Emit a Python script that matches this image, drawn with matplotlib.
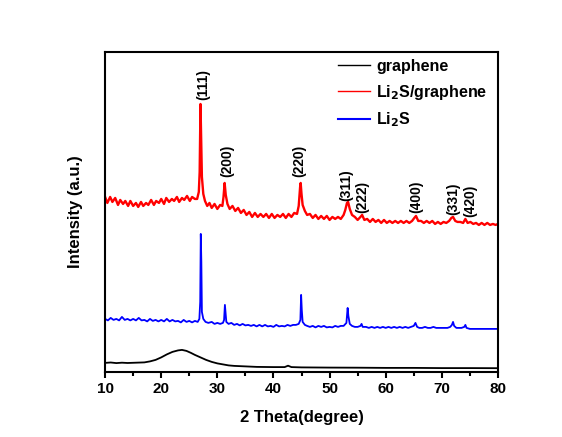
import numpy as np
import matplotlib
matplotlib.use('Agg')
import matplotlib.pyplot as plt
from matplotlib.ticker import MultipleLocator

plt.rcParams['font.family'] = ['Liberation Sans', 'DejaVu Sans']
plt.rcParams['font.weight'] = 'bold'
plt.rcParams['mathtext.default'] = 'bf'

# XRD traces (2 theta in degree, intensity in arbitrary offset units)
red_x = [10.0, 10.4, 10.9, 11.3, 11.8, 12.3, 12.7, 13.2, 13.6, 14.1, 14.5, 15.0, 15.5, 15.9,
         16.4, 16.8, 17.3, 17.7, 18.2, 18.7, 19.1, 19.6, 20.0, 20.5, 20.9, 21.4, 21.9,
         22.3, 22.8, 23.2, 23.7, 24.1, 24.6, 25.1, 25.5, 26.0, 26.4, 26.7, 26.85, 27.0,
         27.1, 27.25, 27.5, 27.8, 28.2, 28.6, 29.0, 29.5, 30.0, 30.5, 30.9, 31.1, 31.3,
         31.5, 31.8, 32.2, 32.7, 33.2, 33.7, 34.2, 34.7, 35.2, 35.7, 36.2, 36.7, 37.2,
         37.7, 38.2, 38.7, 39.2, 39.7, 40.2, 40.7, 41.2, 41.7, 42.2, 42.7, 43.2, 43.7,
         44.2, 44.5, 44.75, 44.85, 45.0, 45.2, 45.6, 46.0, 46.5, 47.0, 47.5, 48.0, 48.5,
         49.0, 49.5, 50.0, 50.5, 51.0, 51.5, 52.0, 52.5, 52.8, 53.1, 53.3, 53.6, 54.0,
         54.5, 55.0, 55.5, 55.8, 56.2, 56.7, 57.2, 57.7, 58.2, 58.7, 59.2, 59.7, 60.2,
         60.7, 61.2, 61.7, 62.2, 62.7, 63.2, 63.7, 64.2, 64.7, 65.1, 65.4, 65.8, 66.3,
         66.8, 67.3, 67.8, 68.3, 68.8, 69.3, 69.8, 70.3, 70.8, 71.3, 71.7, 72.0, 72.4,
         72.8, 73.3, 73.8, 74.2, 74.6, 75.1, 75.6, 76.1, 76.6, 77.1, 77.6, 78.1, 78.6,
         79.1, 79.6, 80.0]
red_y = [175, 169, 175, 170, 174, 167, 172, 168, 171, 166, 171, 166, 169, 165,
         170, 166, 169, 167, 172, 167, 171, 169, 173, 168, 174, 170, 173,
         171, 175, 170, 174, 172, 176, 171, 175, 173, 173, 180, 200, 268,
         240, 195, 178, 171, 166, 169, 164, 168, 163, 167, 166, 175, 189,
         177, 168, 163, 166, 161, 164, 159, 162, 157, 160, 155, 159, 155,
         158, 155, 158, 154, 158, 154, 157, 155, 158, 154, 158, 155, 159,
         158, 166, 185, 189, 178, 167, 161, 157, 158, 154, 157, 153, 156,
         153, 156, 152, 155, 153, 155, 153, 157, 162, 169, 170, 163, 157,
         155, 152, 155, 157, 152, 153, 150, 153, 150, 152, 149, 152, 149,
         151, 149, 151, 149, 151, 149, 151, 149, 151, 154, 156, 151, 151,
         149, 151, 149, 151, 148, 150, 148, 150, 149, 151, 154, 155, 151,
         150, 150, 149, 153, 149, 150, 148, 149, 147, 149, 147, 149, 147,
         148, 147, 148]

blue_x = [10.0, 10.5, 11.0, 11.5, 12.0, 12.5, 13.0, 13.5, 14.0, 14.5, 15.0, 15.5, 16.0,
          16.5, 17.0, 17.5, 18.0, 18.5, 19.0, 19.5, 20.0, 20.5, 21.0, 21.5, 22.0, 22.5,
          23.0, 23.5, 24.0, 24.5, 25.0, 25.5, 26.0, 26.5, 26.8, 26.95, 27.05, 27.15,
          27.25, 27.5, 27.9, 28.4, 29.0, 29.5, 30.0, 30.5, 31.0, 31.2, 31.35, 31.45,
          31.6, 32.0, 32.5, 33.0, 33.5, 34.0, 34.5, 35.0, 35.5, 36.0, 36.5, 37.0, 37.5,
          38.0, 38.5, 39.0, 39.5, 40.0, 40.5, 41.0, 41.5, 42.0, 42.5, 43.0, 43.5, 44.0,
          44.5, 44.8, 44.93, 45.05, 45.2, 45.6, 46.0, 46.5, 47.0, 47.5, 48.0, 48.5,
          49.0, 49.5, 50.0, 50.5, 51.0, 51.5, 52.0, 52.5, 53.0, 53.22, 53.35, 53.6,
          54.0, 54.5, 55.0, 55.5, 55.7, 55.9, 56.5, 57.0, 57.5, 58.0, 58.5, 59.0, 59.5,
          60.0, 60.5, 61.0, 61.5, 62.0, 62.5, 63.0, 63.5, 64.0, 64.5, 65.0, 65.3, 65.6,
          66.0, 66.5, 67.0, 67.5, 68.0, 68.5, 69.0, 69.5, 70.0, 70.5, 71.0, 71.5, 71.8,
          72.0, 72.2, 72.6, 73.0, 73.5, 74.0, 74.2, 74.4, 75.0, 76.0, 77.0, 78.0, 79.0,
          80.0]
blue_y = [53, 51.5, 54, 52, 53, 51.5, 55, 52, 53, 51.5, 53, 51.5, 54,
          51.5, 52, 50.5, 53, 51, 52, 50.5, 52, 50.5, 53, 50.5, 52, 50.5,
          51, 49.5, 52, 50, 51, 49.5, 51, 50, 53, 70, 138, 110,
          60, 53, 50, 49, 50, 48, 49, 48, 49, 52, 67, 60,
          50, 48, 49, 47, 48, 46.5, 48, 46.5, 47, 46, 47, 45.5, 47,
          45.5, 47, 45.5, 46, 45, 47, 45.5, 46, 45.5, 47, 46, 47, 47,
          48, 52, 77, 62, 50, 47, 46, 45, 46, 44.5, 46, 45,
          46, 44.5, 45, 44.5, 46, 45, 46, 46, 49, 64, 56, 48,
          46, 45, 45, 46, 48, 45, 45, 44, 45, 44, 45, 44, 45,
          44, 45, 44, 45, 44, 45, 44, 45, 44, 45, 46, 49, 45,
          44, 44, 45, 44, 44, 45, 44, 44, 44, 44, 44, 45, 47,
          50, 46, 44, 44, 44, 45, 47, 44, 43, 43, 43, 43, 43,
          43]

black_x = [10, 11, 12, 13, 14, 15, 16, 17, 18, 19, 20, 21, 22, 23, 23.7, 24.5, 25.3,
           26, 27, 28, 29, 30, 31, 32, 33, 35, 37, 40, 42, 42.6, 43.2, 45, 50, 55,
           60, 65, 70, 75, 80]
black_y = [9, 9.4, 8.8, 9.2, 8.9, 9.1, 9.3, 9.5, 10.5, 12, 14.5, 17.5, 20, 21.5,
           22, 21, 19, 17, 14.5, 12, 10, 8.5, 7.5, 6.5, 6, 5.5, 5, 4.8, 4.8, 6.2,
           4.8, 4.5, 4.3, 4.2, 4, 4, 3.8, 3.8, 3.7]

peak_labels = ['(111)', '(200)', '(220)', '(311)', '(222)', '(400)', '(331)', '(420)']
label_x = [27.5, 31.7, 44.6, 53.0, 55.8, 65.4, 72.0, 75.1]
label_y = [272, 195, 195, 171, 159, 159, 157, 155]

fig = plt.figure(figsize=(5.62, 4.37), dpi=100)
ax = fig.add_axes([0.187, 0.149, 0.699, 0.732])

ax.plot(black_x, black_y, color='black', lw=1.3, label='graphene')
ax.plot(red_x, red_y, color='red', lw=1.7, label='Li$_2$S/graphene')
ax.plot(blue_x, blue_y, color='blue', lw=1.3, label='Li$_2$S')

for lab, lx, ly in zip(peak_labels, label_x, label_y):
    ax.text(lx, ly, lab, rotation=90, ha='center', va='bottom', fontsize=10, fontweight='bold')

ax.set_xlim(10, 80)
ax.set_ylim(0, 320)
ax.set_yticks([])
ax.xaxis.set_major_locator(MultipleLocator(10))
ax.xaxis.set_minor_locator(MultipleLocator(5))
ax.tick_params(axis='x', which='major', length=4, width=1.5, labelsize=11, direction='out')
ax.tick_params(axis='x', which='minor', length=3, width=1.5, direction='out')
for lbl in ax.get_xticklabels():
    lbl.set_fontweight('bold')
for s in ax.spines.values():
    s.set_linewidth(1.5)

ax.set_xlabel('2 Theta(degree)', fontsize=12, fontweight='bold', labelpad=10)
ax.set_ylabel('Intensity (a.u.)', fontsize=12, fontweight='bold', labelpad=16)

leg = ax.legend(loc='upper left', bbox_to_anchor=(338 / 562, 1 - 59 / 437),
                bbox_transform=fig.transFigure, frameon=False, fontsize=11.5,
                handlelength=2.0, handletextpad=0.4, labelspacing=0.55,
                borderpad=0, borderaxespad=0)
for h in leg.get_lines():
    h.set_linewidth(1.0)
leg.get_lines()[2].set_linewidth(1.5)

fig.savefig('out.png', dpi=100)
